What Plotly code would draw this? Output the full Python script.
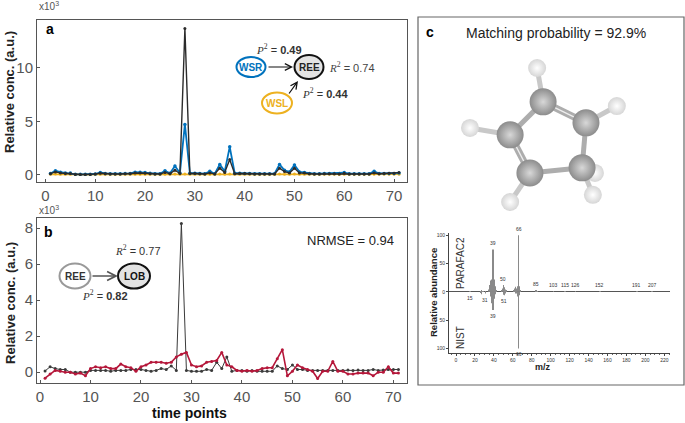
import plotly.graph_objects as go

# ---- data -------------------------------------------------------------
time_pts = list(range(1, 72))

# panel a (x10^3)
wsr = [0.10, 0.35, 0.22, 0.15, 0.15, 0.02, 0.02, 0.02, 0.02, 0.05,
       0.20, 0.10, 0.08, 0.08, 0.08, 0.10, 0.10, 0.22, 0.22, 0.18,
       0.12, 0.08, 0.08, 0.35, 0.12, 0.80, 0.15, 4.70, 0.12, 0.12,
       0.10, 0.08, 0.30, 0.08, 0.95, 0.30, 2.60, 0.12, 0.12, 0.10,
       0.10, 0.08, 0.08, 0.08, 0.08, 0.08, 0.95, 0.40, 0.25, 0.90,
       0.25, 0.20, 0.10, 0.08, 0.08, 0.10, 0.10, 0.10, 0.10, 0.18,
       0.08, 0.08, 0.08, 0.08, 0.08, 0.30, 0.10, 0.10, 0.10, 0.10,
       0.15]
ree_a = [0.08, 0.25, 0.15, 0.10, 0.10, 0.00, 0.00, 0.00, 0.00, 0.05,
         0.12, 0.08, 0.05, 0.05, 0.05, 0.08, 0.08, 0.15, 0.15, 0.12,
         0.08, 0.05, 0.05, 0.20, 0.08, 0.40, 0.10, 13.70, 0.10, 0.10,
         0.08, 0.05, 0.15, 0.05, 0.60, 0.20, 1.40, 0.08, 0.10, 0.10,
         0.08, 0.05, 0.05, 0.05, 0.05, 0.05, 0.60, 0.28, 0.15, 0.60,
         0.15, 0.15, 0.08, 0.05, 0.05, 0.08, 0.08, 0.08, 0.05, 0.12,
         0.05, 0.05, 0.05, 0.05, 0.05, 0.15, 0.08, 0.10, 0.12, 0.12,
         0.18]
wsl = [0.02, 0.04, 0.03, 0.02, 0.02, 0.00, 0.00, 0.00, 0.00, 0.01,
       0.03, 0.02, 0.01, 0.01, 0.01, 0.02, 0.02, 0.03, 0.03, 0.02,
       0.02, 0.01, 0.01, 0.03, 0.02, 0.05, 0.02, 0.06, 0.02, 0.02,
       0.02, 0.01, 0.03, 0.01, 0.04, 0.02, 0.05, 0.02, 0.02, 0.02,
       0.02, 0.01, 0.01, 0.01, 0.01, 0.01, 0.04, 0.03, 0.02, 0.04,
       0.02, 0.02, 0.02, 0.01, 0.01, 0.02, 0.02, 0.02, 0.01, 0.02,
       0.01, 0.01, 0.01, 0.01, 0.01, 0.03, 0.02, 0.02, 0.02, 0.02,
       0.03]

# panel b (x10^3)
ree_b = [0.07, 0.30, 0.20, 0.15, 0.15, 0.00, 0.00, 0.00, 0.00, 0.10,
         0.10, 0.10, 0.10, 0.05, 0.10, 0.10, 0.10, 0.15, 0.15, 0.15,
         0.10, 0.05, 0.10, 0.20, 0.15, 0.35, 0.10, 8.25, 0.10, 0.05,
         0.05, 0.05, 0.15, 0.10, 0.55, 0.20, 0.85, 0.05, 0.10, 0.10,
         0.05, 0.10, 0.05, 0.05, 0.05, 0.05, 0.35, 0.20, 0.15, 0.40,
         0.15, 0.15, 0.10, 0.10, 0.10, 0.10, 0.10, 0.10, 0.10, 0.10,
         0.12, 0.10, 0.12, 0.10, 0.10, 0.15, 0.10, 0.12, 0.15, 0.15,
         0.15]
lob = [-0.33, -0.10, 0.10, 0.05, 0.00, 0.00, -0.10, -0.05, -0.20, 0.20,
       0.30, 0.25, 0.30, 0.20, 0.20, 0.45, 0.30, 0.25, 0.05, 0.30,
       0.40, 0.55, 0.55, 0.55, 0.50, 0.55, 0.85, 1.00, 1.10, 0.40,
       0.30, 0.35, 0.55, 0.60, 0.65, 1.10, 0.40, 0.30, 0.10, 0.05,
       0.10, 0.05, 0.10, 0.20, 0.25, 0.25, 0.75, 1.25, -0.20, 0.05,
       0.40, 0.25, 0.15, 0.05, -0.35, 0.05, 0.05, 0.60, 0.05, 0.05,
       -0.10, -0.10, -0.05, -0.05, -0.05, -0.20, 0.00, 0.00, 0.30, -0.05,
       -0.05]

# panel c: mass spectra (m/z, relative abundance)
parafac_mz = [15, 26, 27, 28, 29, 35, 36, 37, 38, 39, 40, 41, 42, 48, 49,
              50, 51, 52, 53, 61, 62, 63, 64, 65, 66, 67, 68, 84, 85, 86,
              103, 115, 126, 152, 191, 207]
parafac_ab = [1, 1, 2, 1, 1, 4, 12, 20, 22, 75, 22, 10, 3, 3, 6,
              12, 8, 4, 2, 3, 6, 9, 6, 10, 100, 10, 3, 2, 3, 1.5,
              1, 1, 1, 1, 1, 1]
nist_mz = [26, 27, 31, 37, 38, 39, 40, 41, 50, 51, 52, 63, 64, 65, 66, 67]
nist_ab = [2, 4, 3, 8, 20, 32, 12, 4, 5, 6, 3, 3, 3, 8, 100, 6]
up_labels = [39, 50, 66, 85, 103, 115, 126, 152, 191, 207]
down_labels = [15, 31, 39, 51, 66]

# panel c: cyclopentene projected atom positions
carbon_x = [-0.33, 1.10, 0.97, -0.77, -1.43]
carbon_y = [1.27, 0.57, -0.93, -1.10, 0.17]
hydro_x = [-0.53, 2.13, -2.77, -1.43, 1.40, 1.33]
hydro_y = [2.40, 1.13, 0.40, -2.07, -1.10, -1.83]
single_cc = [(0, 4), (1, 2), (2, 3)]
double_cc = [(0, 1), (3, 4)]
ch_bonds = [(0, 0), (1, 1), (4, 2), (3, 3), (2, 4), (2, 5)]

BLUE = "#0072BD"
ORANGE = "#EDB120"
RED = "#B5173A"
DARK = "#2b2b2b"
GREY = "#555555"
FONT = "Liberation Sans"
W, H = 685, 423


def px(x):
    return x / W


def py(y):
    return 1 - y / H


fig = go.Figure()

# ---- panel a ----------------------------------------------------------
fig.add_trace(go.Scatter(x=time_pts, y=wsl, mode="lines+markers",
                         line=dict(color=ORANGE, width=1.8),
                         marker=dict(size=3, color=ORANGE), xaxis="x", yaxis="y"))
fig.add_trace(go.Scatter(x=time_pts, y=wsr, mode="lines+markers",
                         line=dict(color=BLUE, width=1.8),
                         marker=dict(size=3.5, color=BLUE), xaxis="x", yaxis="y"))
fig.add_trace(go.Scatter(x=time_pts, y=ree_a, mode="lines+markers",
                         line=dict(color=DARK, width=1.4),
                         marker=dict(size=3, color=DARK), xaxis="x", yaxis="y"))

# ---- panel b ----------------------------------------------------------
fig.add_trace(go.Scatter(x=time_pts, y=ree_b, mode="lines+markers",
                         line=dict(color="#3a3a3a", width=1),
                         marker=dict(size=3, color="#3a3a3a"), xaxis="x2", yaxis="y2"))
fig.add_trace(go.Scatter(x=time_pts, y=lob, mode="lines+markers",
                         line=dict(color=RED, width=1.6),
                         marker=dict(size=3, color=RED), xaxis="x2", yaxis="y2"))

# ---- panel c: molecule ------------------------------------------------
def segs(pairs, ax, ay, bx, by):
    xs, ys = [], []
    for i, j in pairs:
        xs += [ax[i], bx[j], None]
        ys += [ay[i], by[j], None]
    return xs, ys

hx, hy = segs(ch_bonds, carbon_x, carbon_y, hydro_x, hydro_y)
fig.add_trace(go.Scatter(x=hx, y=hy, mode="lines", line=dict(color="#c8c8c8", width=5),
                         xaxis="x3", yaxis="y3"))
sx, sy = segs(single_cc, carbon_x, carbon_y, carbon_x, carbon_y)
fig.add_trace(go.Scatter(x=sx, y=sy, mode="lines", line=dict(color="#adadad", width=5),
                         xaxis="x3", yaxis="y3"))
dx, dy = segs(double_cc, carbon_x, carbon_y, carbon_x, carbon_y)
fig.add_trace(go.Scatter(x=dx, y=dy, mode="lines", line=dict(color="#adadad", width=7),
                         xaxis="x3", yaxis="y3"))
fig.add_trace(go.Scatter(x=dx, y=dy, mode="lines", line=dict(color="#eeeeee", width=1.3),
                         xaxis="x3", yaxis="y3"))
fig.add_trace(go.Scatter(x=hydro_x, y=hydro_y, mode="markers",
                         marker=dict(size=18, color="#d6d6d6", line=dict(width=0),
                                     gradient=dict(type="radial", color="#ffffff")),
                         xaxis="x3", yaxis="y3"))
fig.add_trace(go.Scatter(x=carbon_x, y=carbon_y, mode="markers",
                         marker=dict(size=27, color="#8c8c8c", line=dict(width=0),
                                     gradient=dict(type="radial", color="#d8d8d8")),
                         xaxis="x3", yaxis="y3"))

# ---- panel c: mass spectrum ------------------------------------------
fig.add_trace(go.Bar(x=parafac_mz, y=parafac_ab, width=0.6, marker_color="#8a8a8a",
                     marker_line_width=0, xaxis="x4", yaxis="y4"))
fig.add_trace(go.Bar(x=nist_mz, y=[-v for v in nist_ab], width=0.6, marker_color="#8a8a8a",
                     marker_line_width=0, xaxis="x4", yaxis="y4"))

up_map = dict(zip(parafac_mz, parafac_ab))
nist_map = dict(zip(nist_mz, nist_ab))
annotations = []
for m in up_labels:
    annotations.append(dict(x=m, y=up_map.get(m, 1), xref="x4", yref="y4", text=str(m),
                            showarrow=False, yanchor="bottom", yshift=1,
                            font=dict(size=5, color="#333")))
for m in down_labels:
    annotations.append(dict(x=m, y=-nist_map.get(m, 1), xref="x4", yref="y4", text=str(m),
                            showarrow=False, yanchor="top", yshift=-1,
                            font=dict(size=5, color="#333")))

# ---- text annotations ------------------------------------------------
def note(x, y, text, size=11, color="#333", bold=False, xanchor="center", **kw):
    if bold:
        text = "<b>" + text + "</b>"
    annotations.append(dict(x=px(x), y=py(y), xref="paper", yref="paper", text=text,
                            showarrow=False, xanchor=xanchor, yanchor="middle",
                            font=dict(size=size, color=color, family=FONT), **kw))

SERIF = "<span style=\"font-family:'Liberation Serif'\"><i>%s</i><sup>2</sup></span>"

note(50, 29, "a", 14, "#000", True)
note(49, 232, "b", 14, "#000", True)
note(430, 32, "c", 14, "#000", True)
note(37, 6, "x10<sup>3</sup>", 10, GREY, xanchor="left")
note(37, 210, "x10<sup>3</sup>", 10, GREY, xanchor="left")
note(10, 92, "Relative conc. (a.u.)", 13, "#222", True, textangle=-90)
note(10, 303, "Relative conc. (a.u.)", 13, "#222", True, textangle=-90)
note(189, 413, "time points", 14, "#111", True)
note(396, 240, "NRMSE = 0.94", 13, "#222", xanchor="right")
note(556, 33, "Matching probability = 92.9%", 14, "#222")

note(251, 67, "WSR", 10, BLUE, True)
note(309, 67, "REE", 10, "#222", True)
note(277, 103, "WSL", 10, ORANGE, True)
note(279, 49, SERIF % "P" + " = <b>0.49</b>", 11, "#333")
note(327, 67, SERIF % "R" + " = 0.74", 11, "#444", xanchor="left")
note(300, 93, SERIF % "P" + " = <b>0.44</b>", 11, "#333", xanchor="left")

note(75, 276, "REE", 10, "#333", True)
note(134, 276, "LOB", 10, "#111", True)
note(113, 250, SERIF % "R" + " = 0.77", 11, "#333", xanchor="left")
note(80, 295, SERIF % "P" + " = <b>0.82</b>", 11, "#333", xanchor="left")

note(433, 293, "Relative abundance", 9.5, "#222", True, textangle=-90)
note(460, 263, "PARAFAC2", 10, "#333", textangle=-90)
note(460, 337, "NIST", 10, "#333", textangle=-90)
note(543, 367, "m/z", 9, "#222", True)

# arrows
def arrow(hx_, hy_, tx, ty, color="#111", width=1.2):
    annotations.append(dict(x=px(hx_), y=py(hy_), xref="paper", yref="paper",
                            ax=tx - hx_, ay=ty - hy_, text="", showarrow=True,
                            arrowhead=5, arrowsize=1.1, arrowwidth=width,
                            arrowcolor=color, standoff=0))

arrow(293, 67, 267, 67)
arrow(298, 81, 288, 95)
arrow(118, 276, 91, 276, "#555", 1.6)

# ellipses and frame
shapes = []
def ellipse(cx, cy, w, h, line, fill, lw=2):
    shapes.append(dict(type="circle", xref="paper", yref="paper",
                       x0=px(cx - w / 2), x1=px(cx + w / 2),
                       y0=py(cy + h / 2), y1=py(cy - h / 2),
                       line=dict(color=line, width=lw), fillcolor=fill, layer="above"))

ellipse(251, 67, 29, 20, BLUE, "white")
ellipse(309, 67, 29, 24, "#111", "#e3e3e3")
ellipse(277, 103, 30, 21, ORANGE, "white")
ellipse(75, 276, 31, 25, "#999", "white")
ellipse(134, 276, 32, 25, "#111", "#e3e3e3")

shapes.append(dict(type="rect", xref="paper", yref="paper", x0=px(418), x1=px(684),
                   y0=py(385), y1=py(17), line=dict(color="#666", width=1.2)))

axis_common = dict(showgrid=False, zeroline=False, showline=True, mirror=True,
                   linecolor=GREY, linewidth=1, ticks="inside", ticklen=3,
                   tickcolor=GREY, automargin=False,
                   tickfont=dict(size=15, color=GREY, family=FONT))

fig.update_layout(
    width=W, height=H, margin=dict(l=0, r=0, t=0, b=0),
    plot_bgcolor="white", paper_bgcolor="white", showlegend=False,
    barmode="overlay", font=dict(family=FONT),
    xaxis=dict(domain=[px(37), px(407)], range=[-1.7, 72.6], anchor="y",
               tickvals=list(range(0, 71, 10)), **axis_common),
    yaxis=dict(domain=[py(182), py(20)], range=[-0.7, 14.5], anchor="x",
               tickvals=[0, 5, 10], **axis_common),
    xaxis2=dict(domain=[px(37), px(407)], range=[-0.6, 72.7], anchor="y2",
                tickvals=list(range(0, 71, 10)), **axis_common),
    yaxis2=dict(domain=[py(383), py(218)], range=[-0.6, 8.56], anchor="x2",
                tickvals=[0, 2, 4, 6, 8], **axis_common),
    xaxis3=dict(domain=[px(440), px(660)], range=[-3.77, 3.57], anchor="y3",
                visible=False, automargin=False),
    yaxis3=dict(domain=[py(220), py(50)], range=[-2.67, 3.0], anchor="x3",
                visible=False, automargin=False),
    xaxis4=dict(domain=[px(449), px(670)], range=[-7.4, 226], anchor="y4",
                showgrid=False, zeroline=False, showline=True, linecolor="#444",
                linewidth=0.8, ticks="outside", ticklen=2, tickwidth=0.6,
                tickcolor="#444", tickvals=list(range(0, 221, 20)), automargin=False,
                tickfont=dict(size=5, color="#333", family=FONT),
                minor=dict(dtick=5, ticks="outside", ticklen=1.2, tickcolor="#666")),
    yaxis4=dict(domain=[py(353), py(233)], range=[-108, 104], anchor="x4",
                showgrid=False, zeroline=True, zerolinecolor="#555", zerolinewidth=0.8,
                showline=True, linecolor="#444", linewidth=0.8, ticks="outside",
                ticklen=2, tickwidth=0.6, tickcolor="#444", automargin=False,
                tickvals=[100, 50, 0, -50, -100],
                ticktext=["100", "50", "0", "50", "100"],
                tickfont=dict(size=5, color="#333", family=FONT)),
    annotations=annotations, shapes=shapes,
)

# the page body has a default 8px margin; remove it so the figure fills the window
fig.write_html("out.html", config={"displayModeBar": False},
               post_script="document.body.style.margin='0';")
